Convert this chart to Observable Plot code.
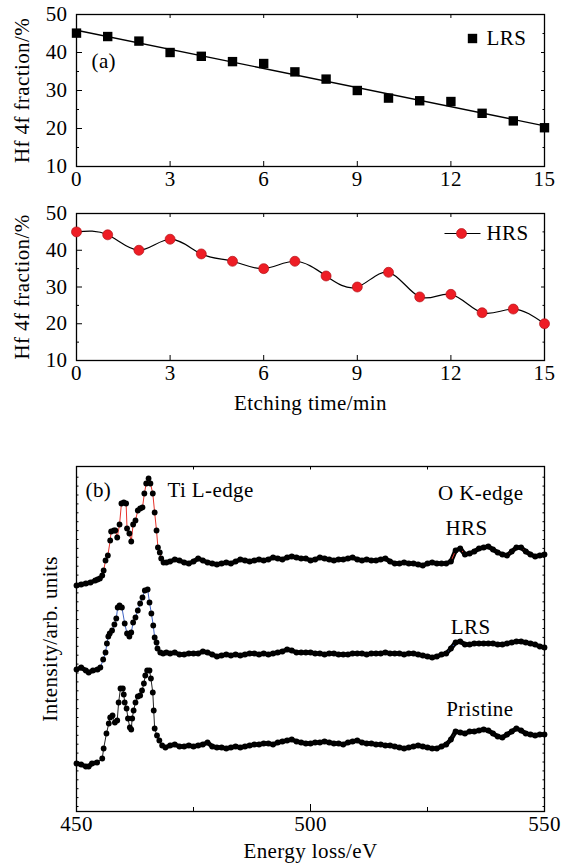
<!DOCTYPE html>
<html><head><meta charset="utf-8">
<script src="https://cdn.jsdelivr.net/npm/d3@7"></script>
<script src="https://cdn.jsdelivr.net/npm/@observablehq/plot@0.6"></script>
<style>
body{margin:0;background:#fff;}
#wrap{position:relative;width:571px;height:865px;overflow:hidden;}
#wrap > div{position:absolute;left:0;}
#wrap svg, #wrap svg text{font-family:"Liberation Serif","DejaVu Serif",serif !important;}
</style></head><body>
<div id="wrap"><div id="pa" style="top:0"></div><div id="ph" style="top:195px"></div><div id="pb" style="top:420px"></div></div>
<script>
// ---------- data: panel (a) ----------
const etchTime = [0,1,2,3,4,5,6,7,8,9,10,11,12,13,14,15];
const lrsFraction = [45.1,44.2,43.0,40.0,39.0,37.6,37.1,34.9,33.0,30.0,28.0,27.3,27.1,24.0,22.0,20.2];
const hrsFraction = [45.0,44.2,40.0,43.0,39.0,37.0,35.0,37.0,33.0,30.0,34.0,27.3,28.0,23.0,24.0,20.0];
const timeTicks = [0,3,6,9,12,15];
const fractionTicks = [10,20,30,40,50];
const fractionMinor = [15,25,35,45];

// ---------- data: panel (b) ----------
const energyTicks = [450,500,550];
const energyMinor = [475,525];
const tailEnergy = [470,471,472,473,474,475,476,477,478,479,480,481,482,483,484,485,486,487,488,489,490,491,492,493,494,495,496,497,498,499,500,501,502,503,504,505,506,507,508,509,510,511,512,513,514,515,516,517,518,519,520,521,522,523,524,525,526,527,528,529,530,531,532,533,534,535,536,537,538,539,540,541,542,543,544,545,546,547,548,549,550];

const hrsPeakEnergy = [450,451,452,453,454,454.5,455,455.5,455.8,456.2,456.7,457.2,457.4,458.0,458.3,458.7,459.2,459.6,460.1,460.6,460.8,461.3,461.7,462.1,462.6,463.1,463.6,464.1,464.5,464.9,465.4,465.8,466.3,466.7,467.1,467.4,467.8,468.1,468.6,469.2];
const hrsPeakIntensity = [226,227,228,229,231,232,233,236,241,251,256,271,280,281,281,274,287,308,309,308,283,278,270,287,291,301,303,304,318,328,333,328,318,299,281,264,259,253,249,249];
const hrsTailIntensity = [250,252,251,249,248,250,253,251,249,248,
  247,248,249,248,250,252,251,250,251,252,
  251,252,254,253,252,254,255,254,253,253,
  251,252,254,253,252,251,252,252,253,254,
  252,251,252,251,251,252,253,250,248,248,
  249,248,248,247,246,248,249,248,248,248,
  250,261,263,257,258,260,263,264,265,262,
  259,257,256,260,264,264,260,257,255,256,
  257];

const lrsPeakEnergy = [450,451,452,452.6,453.5,454.5,455.1,455.7,456.2,456.5,456.8,457.1,457.6,458.1,458.5,458.8,459.2,459.7,460.3,460.8,461.3,461.7,462.1,462.6,463.1,463.6,464.1,464.6,465.2,465.6,466.0,466.4,466.7,467.1,467.3,467.9,468.5,469.2];
const lrsPeakIntensity = [142,144,141,139,141,142,144,152,159,168,175,178,181,187,193,204,206,204,188,178,175,179,189,194,201,208,214,221,222,209,198,186,174,169,163,159,158,159];
const lrsTailIntensity = [158,159,157,157,158,158,158,160,159,157,
  155,156,157,156,157,156,157,158,158,157,
  158,157,158,159,160,162,161,159,159,159,
  159,158,158,157,158,158,157,157,157,158,
  158,158,157,158,158,158,159,158,158,158,
  157,158,158,157,156,155,154,155,157,158,
  163,169,170,167,167,168,168,168,168,168,
  167,167,168,169,170,170,169,168,167,165,
  164];

const priPeakEnergy = [450,451,452,452.6,453.3,454.4,455.5,455.8,456.4,456.9,457.2,457.7,458.2,458.7,459.0,459.4,459.9,460.1,460.3,460.7,461.0,461.4,461.7,461.9,462.2,462.6,463.1,463.6,464.0,464.4,464.7,465.1,465.6,465.9,466.3,466.5,466.7,467.2,467.7,468.3,469.0];
const priPeakIntensity = [48,47,45,45,48,49,53,63,78,88,94,96,89,91,109,123,123,117,109,103,93,84,82,93,101,109,115,116,121,128,136,141,141,133,119,101,83,76,71,66,64];
const priTailIntensity = [66,67,65,65,66,65,66,67,69,65,
  64,64,63,64,65,64,65,66,67,67,
  68,68,67,69,70,71,72,70,69,68,
  68,69,69,70,69,68,68,67,69,70,
  71,69,68,68,67,67,66,66,65,64,
  63,64,65,66,65,64,63,63,65,67,
  72,80,79,78,80,80,81,82,81,78,
  75,74,77,80,83,81,78,77,76,77,
  77];

// ---------- build ----------
const FONT = "Liberation Serif, DejaVu Serif, serif";
const STYLE = {fontFamily: FONT, fontSize: "21px", background: "white", color: "black", letterSpacing: "0.4px", overflow: "visible"};
const blank = () => "";

const lrsPoints = etchTime.map((t, i) => ({t, f: lrsFraction[i]}));
const hrsPoints = etchTime.map((t, i) => ({t, f: hrsFraction[i]}));

function spectrum(peakE, peakI, tailI) {
  return peakE.map((e, i) => ({e, v: peakI[i]})).concat(tailEnergy.map((e, i) => ({e, v: tailI[i]})));
}
const hrsSpec = spectrum(hrsPeakEnergy, hrsPeakIntensity, hrsTailIntensity);
const lrsSpec = spectrum(lrsPeakEnergy, lrsPeakIntensity, lrsTailIntensity);
const priSpec = spectrum(priPeakEnergy, priPeakIntensity, priTailIntensity);

// dense, flat parts of each spectrum (before the Ti edge and after it) read as a thick run of dots
const flatPart = d => d.e <= 455.2 || d.e >= 468.4;
const flatSegment = d => (d.e < 462 ? "pre" : "post");

function label(txt, opts) {
  return Plot.text([txt], {x: null, y: null, text: d => d, lineAnchor: "middle", fill: "black", ...opts});
}

function fracAxes() {
  const inner = timeTicks.slice(1, -1);
  return [
    Plot.axisX({ticks: timeTicks, anchor: "bottom", tickSize: 0, tickPadding: 5, label: null}),
    Plot.axisX({ticks: inner, anchor: "bottom", tickSize: 5, dy: -5, tickFormat: blank, label: null}),
    Plot.axisX({ticks: inner, anchor: "top", tickSize: 3, dy: 3, tickFormat: blank, label: null}),
    Plot.axisY({ticks: fractionTicks, anchor: "left", tickSize: 0, tickPadding: 9, label: null}),
    Plot.axisY({ticks: fractionTicks, anchor: "left", tickSize: 6, dx: 6, tickFormat: blank, label: null}),
    Plot.axisY({ticks: fractionMinor, anchor: "left", tickSize: 3, dx: 3, tickFormat: blank, label: null}),
    Plot.axisY({ticks: fractionTicks, anchor: "right", tickSize: 4, dx: -4, tickFormat: blank, label: null}),
    Plot.axisY({ticks: fractionMinor, anchor: "right", tickSize: 2.5, dx: -2.5, tickFormat: blank, label: null}),
    Plot.frame({stroke: "black", strokeWidth: 1.3}),
    label("Hf 4f fraction/%", {frameAnchor: "left", dx: -54, rotate: -90, textAnchor: "middle"})
  ];
}

const pa = Plot.plot({
  width: 571, height: 195, marginTop: 14, marginBottom: 29, marginLeft: 76, marginRight: 27,
  style: STYLE,
  x: {domain: [0, 15]}, y: {domain: [10, 50]},
  marks: [
    ...fracAxes(),
    Plot.linearRegressionY(lrsPoints, {x: "t", y: "f", ci: 0, stroke: "black", strokeWidth: 1.3}),
    Plot.dot(lrsPoints, {x: "t", y: "f", symbol: "square", r: 5.3, fill: "black"}),
    Plot.dot([0], {x: null, y: null, frameAnchor: "top-right", dx: -72, dy: 24, symbol: "square", r: 5.3, fill: "black"}),
    label("LRS", {frameAnchor: "top-right", dx: -58, dy: 24, textAnchor: "start"}),
    label("(a)", {frameAnchor: "top-left", dx: 15, dy: 47, textAnchor: "start"})
  ]
});
document.getElementById("pa").appendChild(pa);

const legendLine = {draw(ctx) { ctx.moveTo(-18, 0); ctx.lineTo(18, 0); }};
const ph = Plot.plot({
  width: 571, height: 225, marginTop: 18, marginBottom: 60, marginLeft: 76, marginRight: 27,
  style: STYLE,
  x: {domain: [0, 15]}, y: {domain: [10, 50]},
  marks: [
    ...fracAxes(),
    Plot.line(hrsPoints, {x: "t", y: "f", curve: "natural", stroke: "black", strokeWidth: 1.2}),
    Plot.dot(hrsPoints, {x: "t", y: "f", r: 5, fill: "#ee1d25", stroke: "#b3151b", strokeWidth: 0.7}),
    Plot.dot([0], {x: null, y: null, frameAnchor: "top-right", dx: -82, dy: 20, symbol: legendLine, fill: "none", stroke: "black", strokeWidth: 1.2}),
    Plot.dot([0], {x: null, y: null, frameAnchor: "top-right", dx: -83, dy: 20, r: 5, fill: "#ee1d25", stroke: "#b3151b", strokeWidth: 0.7}),
    label("HRS", {frameAnchor: "top-right", dx: -58, dy: 20, textAnchor: "start"}),
    label("Etching time/min", {frameAnchor: "bottom", dy: 43, textAnchor: "middle"})
  ]
});
document.getElementById("ph").appendChild(ph);

const intensityTicks = d3.range(0, 38).map(i => 5 + i * 8.9);
const specMarks = (spec, color) => [
  Plot.line(spec, {x: "e", y: "v", filter: flatPart, z: flatSegment, stroke: "black", strokeWidth: 4.5, strokeLinejoin: "round", strokeLinecap: "round"}),
  Plot.line(spec, {x: "e", y: "v", stroke: color, strokeWidth: 1}),
  Plot.dot(spec, {x: "e", y: "v", r: 2.9, fill: "black"})
];
const pb = Plot.plot({
  width: 571, height: 445, marginTop: 46, marginBottom: 54, marginLeft: 76, marginRight: 27,
  style: STYLE,
  x: {domain: [450, 550]}, y: {domain: [0, 345]},
  marks: [
    Plot.axisX({ticks: energyTicks, anchor: "bottom", tickSize: 0, tickPadding: 5, label: null}),
    Plot.axisX({ticks: energyTicks, anchor: "bottom", tickSize: 7, dy: -7, tickFormat: blank, label: null}),
    Plot.axisX({ticks: energyMinor, anchor: "bottom", tickSize: 4, dy: -4, tickFormat: blank, label: null}),
    Plot.axisX({ticks: energyTicks.concat(energyMinor), anchor: "top", tickSize: 2.5, dy: 2.5, tickFormat: blank, label: null}),
    Plot.axisY({ticks: intensityTicks, anchor: "left", tickSize: 2.5, dx: 2.5, tickFormat: blank, label: null}),
    Plot.axisY({ticks: intensityTicks, anchor: "right", tickSize: 2.5, dx: -2.5, tickFormat: blank, label: null}),
    Plot.frame({stroke: "black", strokeWidth: 1.3}),
    ...specMarks(hrsSpec, "#e8332b"),
    ...specMarks(lrsSpec, "#3f63c4"),
    ...specMarks(priSpec, "#222"),
    label("(b)", {frameAnchor: "top-left", dx: 9, dy: 24, textAnchor: "start"}),
    label("Ti L-edge", {frameAnchor: "top-left", dx: 91, dy: 24, textAnchor: "start"}),
    label("O K-edge", {frameAnchor: "top-right", dx: -21, dy: 27, textAnchor: "end"}),
    label("HRS", {frameAnchor: "top-right", dx: -57, dy: 62, textAnchor: "end"}),
    label("LRS", {frameAnchor: "top-right", dx: -54, dy: 161, textAnchor: "end"}),
    label("Pristine", {frameAnchor: "top-right", dx: -31, dy: 243, textAnchor: "end"}),
    label("Intensity/arb. units", {frameAnchor: "left", dx: -26, rotate: -90, textAnchor: "middle"}),
    label("Energy loss/eV", {frameAnchor: "bottom", dy: 40, textAnchor: "middle"})
  ]
});
document.getElementById("pb").appendChild(pb);
</script>
</body></html>
